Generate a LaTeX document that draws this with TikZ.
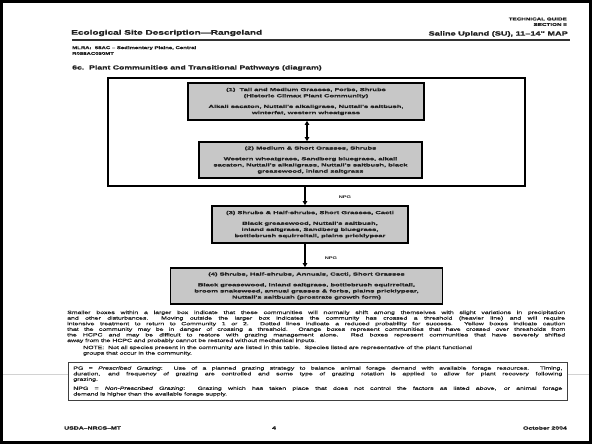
\documentclass[tikz,border=0pt]{standalone}
\usepackage{fontspec}
\setmainfont{Liberation Sans}
\newfontfamily\sq[FakeStretch=1.5]{Liberation Sans}
\newfontfamily\sqh[FakeStretch=1.5,FakeBold=0.8]{Liberation Sans}
\newfontfamily\sqb[FakeStretch=1.5,FakeBold=0.6]{Liberation Sans}
\newfontfamily\sqbox[FakeStretch=1.72,FakeBold=0.4]{Liberation Sans}
\usetikzlibrary{arrows.meta}
\newcommand\fsz[2]{\fontsize{#1}{#2}\selectfont}
\begin{document}
\begin{tikzpicture}[x=1pt,y=-1pt,
  every node/.style={inner sep=0pt, text=black!88},
  commbox/.style={draw=black, line width=1.7pt, fill=black!22, align=center,
    font={\sqbox\bfseries\fsz{4.4pt}{6.2pt}}},
  hdr/.style={font={\sqh\bfseries\fsz{#1}{#1}}},
  flow/.style={line width=1.6pt, -{Triangle[length=4pt,width=4.5pt]}},
  lbl/.style={font={\sq\bfseries\fsz{3.8pt}{4pt}}},
  body/.style={font={\sqb\fsz{4.6pt}{5.6pt}}}
]
\useasboundingbox (0,0) rectangle (592,444);
\fill[white] (0,0) rectangle (592,444);
\draw[line width=2.6pt] (1.5,1.5) rectangle (590.5,442.5);

% header
\node[hdr=4.2pt, anchor=east] (tg) at (567,19) {TECHNICAL GUIDE};
\node[hdr=4.2pt, anchor=east] (sec) at (567,24.5) {SECTION II};
\node[hdr=6.7pt, anchor=west] (title) at (71,33) {Ecological Site Description—Rangeland};
\node[hdr=6.1pt, anchor=east] (saline) at (568,34) {Saline Upland (SU), 11–14" MAP};
\draw[line width=1.3pt, black!80] (72,40) -- (570,40);
\node[hdr=4pt, anchor=west] (mlra) at (72,48) {MLRA:\ \ 58AC – Sedimentary Plains, Central};
\node[hdr=4pt, anchor=west] (rid) at (72,53.5) {R058AC050MT};
\node[hdr=5.8pt, anchor=west] (sec6c) at (72,68) {6c.\ \ Plant Communities and Transitional Pathways (diagram)};

% big box
\node[draw=black, line width=1.4pt, minimum width=417pt, minimum height=108pt] (big) at (316.5,132) {};

% community boxes
\node[commbox, minimum width=236pt, minimum height=37pt] (b1) at (306,101.5)
  {(1)\ \ Tall and Medium Grasses, Forbs, Shrubs\\(Historic Climax Plant Community)\\[4.5pt]
   Alkali sacaton, Nuttall's alkaligrass, Nuttall's saltbush,\\winterfat, western wheatgrass};
\node[commbox, minimum width=223pt, minimum height=36pt] (b2) at (310.5,160)
  {(2) Medium \& Short Grasses, Shrubs\\[4.5pt]
   Western wheatgrass, Sandberg bluegrass, alkali\\sacaton, Nuttall's alkaligrass, Nuttall's saltbush, black\\greasewood, inland saltgrass};
\node[commbox, minimum width=196pt, minimum height=37pt] (b3) at (310,224.5)
  {(3) Shrubs \& Half-shrubs, Short Grasses, Cacti\\[4.5pt]
   Black greasewood, Nuttall's saltbush,\\inland saltgrass, Sandberg bluegrass,\\bottlebrush squirreltail, plains pricklypear};
\node[commbox, minimum width=272pt, minimum height=36pt] (b4) at (306.5,286)
  {(4) Shrubs, Half-shrubs, Annuals, Cacti, Short Grasses\\[4.5pt]
   Black greasewood, inland saltgrass, bottlebrush squirreltail,\\broom snakeweed, annual grasses \& forbs, plains pricklypear,\\Nuttall's saltbush (prostrate growth form)};

% connectors
\coordinate (a12) at (307,0);
\coordinate (a23) at (305,0);
\coordinate (a34) at (305,0);
\draw[flow, {Triangle[length=4pt,width=4.5pt]}-{Triangle[length=4pt,width=4.5pt]}] (b1.south -| a12) -- (b2.north -| a12);
\draw[flow] (big.south -| a23) -- (b3.north -| a23);
\draw[flow] (b3.south -| a34) -- (b4.north -| a34);
\node[lbl] (npg1) at (345,197) {NPG};
\node[lbl] (npg2) at (331,258) {NPG};

% explanatory paragraph
\node[body, anchor=north west, text width=498pt, align=justify] (para) at (67,310.5)
 {\tolerance=10000 Smaller boxes within a larger box indicate that these communities will normally shift among themselves with slight variations in precipitation\linebreak
 and other disturbances.\ \ Moving outside the larger box indicates the community has crossed a threshold (heavier line) and will require\linebreak
 intensive treatment to return to Community 1 or 2.\ \ Dotted lines indicate a reduced probability for success.\ \ Yellow boxes indicate caution\linebreak
 that the community may be in danger of crossing a threshold.\ \ Orange boxes represent communities that have crossed over thresholds from\linebreak
 the HCPC and may be difficult to restore with grazing management alone.\ \ Red boxes represent communities that have severely shifted\linebreak
 away from the HCPC and probably cannot be restored without mechanical inputs.};

\node[body, anchor=north west, align=left] (note) at (83,345.5)
 {NOTE:\ \ Not all species present in the community are listed in this table.\ \ Species listed are representative of the plant functional\\
  groups that occur in the community.};

% faint scan line
\draw[gray!35, line width=0.6pt] (3,374) -- (68,374);
\draw[gray!35, line width=0.6pt] (567,374) -- (589,374);

% definitions box
\node[body, draw=black!75, line width=0.8pt, anchor=north west, text width=489pt,
  inner xsep=5pt, inner ysep=2.6pt, minimum height=38pt, align=justify] (defs) at (68,362)
 {\tolerance=10000 PG = \textit{Prescribed Grazing}:\ \ Use of a planned grazing strategy to balance animal forage demand with available forage resources.\ \ Timing,\linebreak
  duration, and frequency of grazing are controlled and some type of grazing rotation is applied to allow for plant recovery following\linebreak
  grazing.\par\vspace{3.4pt}
  NPG = \textit{Non-Prescribed Grazing}:\ \ Grazing which has taken place that does not control the factors as listed above, or animal forage\linebreak
  demand is higher than the available forage supply.};

% footer
\node[hdr=4.6pt, anchor=west] (foot1) at (64,428) {USDA–NRCS–MT};
\node[hdr=4.6pt] (foot2) at (274,428) {4};
\node[hdr=4.6pt, anchor=east] (foot3) at (567,428) {October 2004};
\end{tikzpicture}
\end{document}
